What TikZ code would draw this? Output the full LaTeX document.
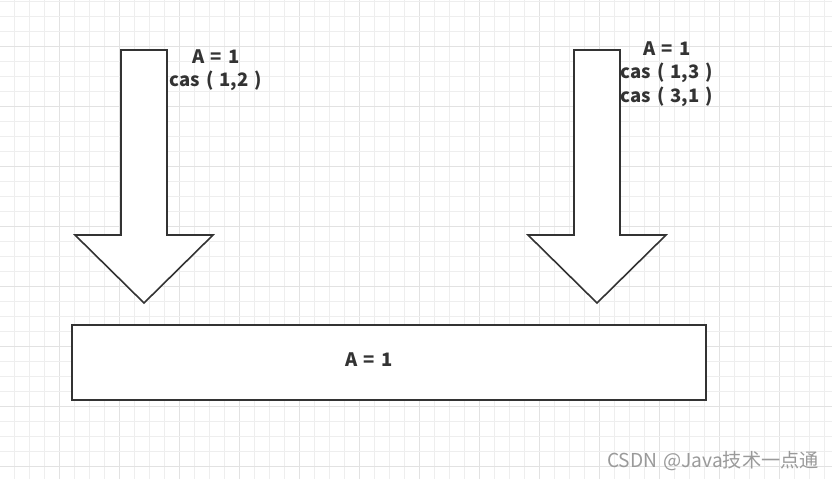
\documentclass[tikz,border=0pt]{standalone}
\usepackage{fontspec}
\setmainfont{Noto Sans CJK SC}
\newfontfamily\cjk{Noto Sans CJK SC}
\definecolor{ink}{HTML}{333333}
\definecolor{gridminor}{HTML}{EEEEEE}
\definecolor{gridmajor}{HTML}{E2E2E2}
\definecolor{wm}{HTML}{9A9A9A}
\newcommand\mylblfont{\fontsize{18.5}{23.5}\selectfont\bfseries\spaceskip=0.33em\relax}
\newcommand\mywmfont{\cjk\fontsize{19.2}{20}\selectfont\spaceskip=0.3em\relax}
\begin{document}
\begin{tikzpicture}[x=1pt,y=-1pt,
  shapeline/.style={draw=ink,line width=1.6pt,fill=white,line join=miter},
  lbl/.style={text=ink,font=\mylblfont,align=center,inner sep=0pt},
  wmark/.style={text=wm,font=\mywmfont,inner sep=0pt,anchor=east}]
\useasboundingbox (0,0) rectangle (832,479);
\fill[white] (0,0) rectangle (832,479);
% grid
\foreach \k in {0,...,55} {
  \pgfmathsetmacro{\xx}{14.5+15*\k}
  \pgfmathtruncatemacro{\mm}{mod(\k,4)}
  \ifnum\mm=3 \draw[gridmajor,line width=0.8pt] (\xx,0) -- (\xx,479);
  \else \draw[gridminor,line width=0.8pt] (\xx,0) -- (\xx,479); \fi
}
\foreach \k in {0,...,31} {
  \pgfmathsetmacro{\yy}{1.5+15*\k}
  \pgfmathtruncatemacro{\mm}{mod(\k,4)}
  \ifnum\mm=3 \draw[gridmajor,line width=0.8pt] (0,\yy) -- (832,\yy);
  \else \draw[gridminor,line width=0.8pt] (0,\yy) -- (832,\yy); \fi
}
% left arrow
\draw[shapeline] (121,50) -- (167,50) -- (167,235) -- (213,235) -- (144,303) -- (75,235) -- (121,235) -- cycle;
% right arrow
\draw[shapeline] (574,50) -- (620,50) -- (620,235) -- (666,235) -- (597,303) -- (528,235) -- (574,235) -- cycle;
% box
\draw[shapeline] (72,325) rectangle (706,400);
% labels
\node[lbl] (l1) at (216,70) {A = 1\\cas ( 1,2 )};
\node[lbl] (r1) at (667,74) {A = 1\\cas ( 1,3 )\\cas ( 3,1 )};
\node[lbl] (b1) at (369,360) {A = 1};
\node[wmark] (wm) at (819,461) {CSDN @Java技术一点通};
\end{tikzpicture}
\end{document}
